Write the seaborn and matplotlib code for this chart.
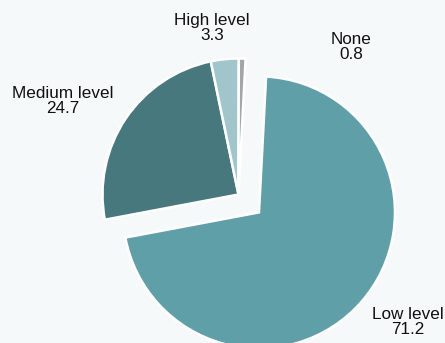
import matplotlib
matplotlib.use("Agg")
import matplotlib.pyplot as plt
import seaborn as sns

# Share of respondents by level (percent)
categories = ["Low level", "Medium level", "High level", "None"]
values = [71.2, 24.7, 3.3, 0.8]

sns.set_theme(style="white")
plt.rcParams["font.family"] = ["Liberation Sans", "DejaVu Sans"]

bg = "#f5f9fa"
colors = ["#5fa0a8", "#46787e", "#a0c6cc", "#a3a6a8"]

fig = plt.figure(figsize=(4.45, 3.43), dpi=100, facecolor=bg)
ax = fig.add_axes([0, 0, 1, 1])
ax.set_facecolor(bg)

R = 136.0          # pie radius in pixels
cx, cy = 238.5, 194.5  # pie centre in pixels from top-left

wedges, texts = ax.pie(
    values,
    labels=[f"{c}\n{v}" for c, v in zip(categories, values)],
    colors=colors,
    startangle=87,
    counterclock=False,
    explode=[0.2, 0, 0, 0],
    radius=1.0,
    wedgeprops=dict(edgecolor="white", linewidth=1.8),
    textprops=dict(fontsize=12.3, color="#111111"),
)

# label placement around the pie (pixel centres converted to data units)
label_px = [(408, 322), (62.5, 101), (212, 28), (351, 47)]
for t, (px, py) in zip(texts, label_px):
    t.set_position(((px - cx) / R, (cy - py) / R))
    t.set_ha("center")
    t.set_va("center")
    t.set_linespacing(1.08)

ax.set_xlim(-cx / R, (445 - cx) / R)
ax.set_ylim(-(343 - cy) / R, cy / R)
ax.set_aspect("equal", adjustable="datalim")
ax.axis("off")

fig.savefig("out.png", dpi=100, facecolor=bg)
